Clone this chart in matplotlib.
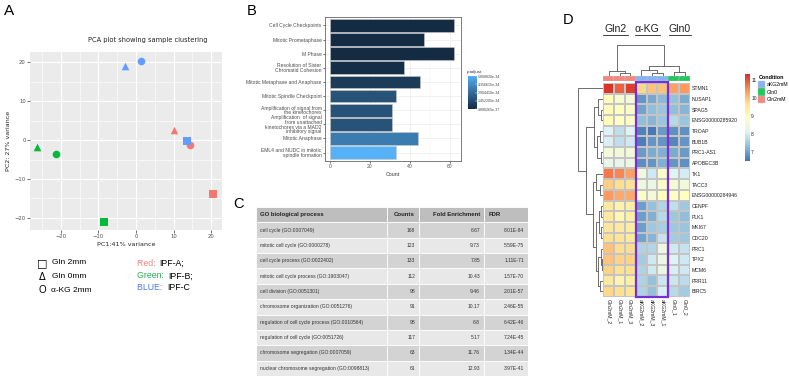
import numpy as np
import matplotlib
matplotlib.use('Agg')
import matplotlib.pyplot as plt
from matplotlib.colors import LinearSegmentedColormap
from matplotlib.patches import Rectangle
from matplotlib.lines import Line2D

# ---------------- DATA ----------------
# Panel A (PCA)
pca_donor = ['IPF-A', 'IPF-A', 'IPF-A', 'IPF-B', 'IPF-B', 'IPF-B', 'IPF-C', 'IPF-C', 'IPF-C']
pca_treat = ['Gln2', 'Gln0', 'aKG', 'Gln2', 'Gln0', 'aKG', 'Gln2', 'Gln0', 'aKG']
pc1 = [20.4, 10.0, 14.5, -8.5, -26.3, -21.4, 13.7, -2.9, 1.3]
pc2 = [-13.8, 2.7, -1.2, -21.0, -1.8, -3.5, -0.3, 19.0, 20.3]
pca_ticks = [-20, -10, 0, 10, 20]

# Panel B (Reactome enrichment)
b_terms = ['Cell Cycle Checkpoints', 'Mitotic Prometaphase', 'M Phase',
           'Resolution of Sister\nChromatid Cohesion', 'Mitotic Metaphase and Anaphase',
           'Mitotic Spindle Checkpoint', 'Amplification of signal from\nthe kinetochores',
           'Amplification  of signal\nfrom unattached\nkinetochores via a MAD2\ninhibitory signal',
           'Mitotic Anaphase', 'EML4 and NUDC in mitotic\nspindle formation']
b_counts = [62, 47, 62, 37, 45, 33, 31, 31, 44, 33]
b_padj = [1.0e-36, 2.0e-36, 3.890265e-37, 1.2e-35, 7.0e-35, 1.75e-34, 1.75e-34, 1.75e-34, 3.5e-34, 5.808820e-34]
b_padj_ticks = [5.808820e-34, 4.356615e-34, 2.904410e-34, 1.452205e-34, 3.890265e-37]
b_padj_labels = ['5.808820e-34', '4.356615e-34', '2.904410e-34', '1.452205e-34', '3.890265e-37']
b_xticks = [0, 20, 40, 60]

# Panel C (GO table)
c_header = ['GO biological process', 'Counts', 'Fold Enrichment', 'FDR']
c_process = ['cell cycle (GO:0007049)', 'mitotic cell cycle (GO:0000278)',
             'cell cycle process (GO:0022402)', 'mitotic cell cycle process (GO:1903047)',
             'cell division (GO:0051301)', 'chromosome organization (GO:0051276)',
             'regulation of cell cycle process (GO:0010564)', 'regulation of cell cycle (GO:0051726)',
             'chromosome segregation (GO:0007059)', 'nuclear chromosome segregation (GO:0098813)']
c_counts = ['168', '123', '133', '112', '98', '91', '98', '117', '63', '61']
c_fold = ['6.67', '9.73', '7.85', '10.43', '9.46', '10.17', '6.8', '5.17', '11.76', '12.93']
c_fdr = ['8.01E-84', '5.59E-75', '1.11E-71', '1.57E-70', '2.01E-57', '2.46E-55',
         '6.42E-46', '7.24E-45', '1.34E-44', '3.97E-41']

# Panel D (heatmap)
d_genes = ['STMN1', 'NUSAP1', 'SPAG5', 'ENSG00000285920', 'TROAP', 'BUB1B', 'PRC1-AS1',
           'APOBEC3B', 'TK1', 'TACC3', 'ENSG00000284946', 'CENPF', 'PLK1', 'MKI67', 'CDC20',
           'PRC1', 'TPX2', 'MCM6', 'PRR11', 'BIRC5']
d_samples = ['Gln2mM_2', 'Gln2mM_1', 'Gln2mM_3', 'aKG2mM_2', 'aKG2mM_3', 'aKG2mM_1', 'Gln0_1', 'Gln0_2']
d_condition = ['Gln2mM', 'Gln2mM', 'Gln2mM', 'aKG2mM', 'aKG2mM', 'aKG2mM', 'Gln0', 'Gln0']
d_values = [
    [11.30, 10.90, 11.20, 9.80, 10.00, 10.00, 10.35, 10.40],
    [8.95, 8.70, 8.60, 6.85, 7.05, 7.25, 7.35, 7.10],
    [9.00, 8.95, 8.80, 7.00, 7.30, 7.40, 7.30, 7.20],
    [9.00, 8.90, 8.85, 7.30, 7.20, 7.40, 7.70, 7.40],
    [8.10, 7.80, 8.15, 6.65, 6.55, 6.90, 6.80, 6.80],
    [8.05, 7.80, 7.95, 6.60, 6.85, 6.85, 6.70, 6.85],
    [8.60, 8.55, 8.55, 6.90, 7.10, 7.15, 7.10, 6.90],
    [8.35, 8.30, 8.40, 6.75, 6.85, 7.15, 6.85, 6.80],
    [10.70, 10.60, 10.35, 8.50, 7.95, 8.75, 8.15, 8.00],
    [9.90, 9.75, 9.65, 8.45, 8.40, 8.75, 8.60, 8.55],
    [10.40, 10.25, 10.25, 8.80, 8.60, 8.95, 8.85, 8.95],
    [9.50, 9.25, 9.35, 6.95, 7.35, 7.65, 7.80, 7.45],
    [9.45, 9.15, 9.35, 6.95, 7.15, 7.70, 7.45, 7.30],
    [9.55, 9.45, 9.40, 6.95, 7.45, 7.55, 7.45, 7.40],
    [9.70, 9.60, 9.50, 7.00, 7.20, 7.85, 7.50, 7.45],
    [10.00, 9.75, 9.75, 7.60, 7.65, 8.45, 7.95, 7.85],
    [10.00, 9.85, 9.85, 7.50, 7.95, 8.40, 8.10, 7.95],
    [9.85, 9.70, 9.70, 7.60, 7.95, 8.40, 8.05, 7.95],
    [9.45, 9.20, 9.35, 7.60, 7.35, 7.90, 7.90, 7.75],
    [9.80, 9.70, 9.60, 7.60, 7.35, 8.05, 7.70, 7.50],
]
d_ticks = [7, 8, 9, 10, 11]
# dendrograms: (height, left, right) nodes, ints are leaf indices
d_row_tree = (1.0, 0, (0.68, (0.36, (0.2, 1, (0.1, 2, 3)), (0.24, (0.12, 4, 5), (0.1, 6, 7))),
                       (0.42, (0.3, 8, (0.14, 9, 10)),
                        (0.3, (0.16, (0.08, 11, 12), (0.1, 13, 14)),
                         (0.2, (0.1, 15, (0.06, 16, 17)), (0.12, 18, 19))))))
d_col_tree = (1.0, (0.14, 0, (0.08, 1, 2)), (0.31, (0.17, 3, (0.1, 4, 5)), (0.13, 6, 7)))

# ---------------- STYLE ----------------
W, H = 789, 383
plt.rcParams['font.family'] = ['Liberation Sans', 'DejaVu Sans']
fig = plt.figure(figsize=(W / 100, H / 100), dpi=100)
fig.patch.set_facecolor('white')


def px_axes(x0, y0, x1, y1, **kw):
    return fig.add_axes([x0 / W, 1 - y1 / H, (x1 - x0) / W, (y1 - y0) / H], **kw)


def ftext(x, y, s, **kw):
    return fig.text(x / W, 1 - y / H, s, **kw)


def fline(xs, ys, **kw):
    fig.add_artist(Line2D([x / W for x in xs], [1 - y / H for y in ys], **kw))


# ---------------- PANEL A ----------------
donor_col = {'IPF-A': '#F8766D', 'IPF-B': '#00BA38', 'IPF-C': '#619CFF'}
treat_mk = {'Gln2': 's', 'Gln0': '^', 'aKG': 'o'}
axA = px_axes(30, 52, 222, 230)
axA.set_facecolor('#EBEBEB')
for i in range(len(pc1)):
    axA.scatter(pc1[i], pc2[i], marker=treat_mk[pca_treat[i]], c=donor_col[pca_donor[i]],
                s=30, linewidths=0, zorder=3)
axA.set_xlim(-28.2, 22.9)
axA.set_ylim(-23.1, 22.6)
axA.set_xticks(pca_ticks)
axA.set_yticks(pca_ticks)
axA.set_xticks([-25, -15, -5, 5, 15], minor=True)
axA.set_yticks([-15, -5, 5, 15], minor=True)
axA.grid(True, which='major', color='white', lw=0.8)
axA.grid(True, which='minor', color='white', lw=0.4)
axA.set_axisbelow(True)
for s in axA.spines.values():
    s.set_visible(False)
axA.tick_params(which='major', length=2, width=0.5, color='#333333', labelsize=3.8,
                labelcolor='#4D4D4D', pad=1)
axA.tick_params(which='minor', length=0)
axA.set_xlabel('PC1:41% variance', fontsize=4.6, color='#222222', labelpad=2, family='DejaVu Sans')
axA.set_ylabel('PC2: 27% variance', fontsize=4.6, color='#222222', labelpad=3, family='DejaVu Sans')
for lab in axA.get_xticklabels() + axA.get_yticklabels():
    lab.set_family('DejaVu Sans')
ftext(148, 40, 'PCA plot showing sample clustering', fontsize=4.8, ha='center', va='center',
      color='#222222', family='DejaVu Sans')
ftext(4, 11, 'A', fontsize=11, ha='left', va='center')

# legend for panel A
ftext(42, 263, '\u25A1', fontsize=8, ha='center', va='center', family='DejaVu Sans')
ftext(42, 277, '\u0394', fontsize=7, ha='center', va='center', family='DejaVu Sans')
ftext(42, 290, 'O', fontsize=7, ha='center', va='center')
ftext(52, 263, 'Gln 2mm', fontsize=6, ha='left', va='center')
ftext(52, 277, 'Gln 0mm', fontsize=6, ha='left', va='center')
ftext(51, 290, '\u03b1-KG 2mm', fontsize=6, ha='left', va='center')
for yy, lbl, col in [(263, 'Red: ', '#F4837D'), (276, 'Green: ', '#22B14C'), (288, 'BLUE: ', '#4A7BEA')]:
    ftext(137, yy, lbl, fontsize=6.3, ha='left', va='center', color=col)
ftext(159.5, 263, 'IPF-A;', fontsize=6.3, ha='left', va='center')
ftext(168.5, 276, 'IPF-B;', fontsize=6.3, ha='left', va='center')
ftext(167, 288, 'IPF-C', fontsize=6.3, ha='left', va='center')

# ---------------- PANEL B ----------------
cmapB = LinearSegmentedColormap.from_list('ggb', ['#132B43', '#56B1F7'])
pmin, pmax = min(b_padj), max(b_padj)
axB = px_axes(325, 17, 461, 161)
ypos = np.arange(len(b_terms))
colsB = [cmapB((p - pmin) / (pmax - pmin)) for p in b_padj]
axB.barh(ypos, b_counts, height=0.9, color=colsB, edgecolor='#C8C8C8', linewidth=0.4, zorder=3)
axB.set_ylim(len(b_terms) - 0.4, -0.6)
axB.set_xlim(-2.5, 65.5)
axB.set_yticks(ypos)
axB.set_yticklabels(b_terms, fontsize=3.5, color='#333333', linespacing=0.95)
axB.set_xticks(b_xticks)
axB.set_xticks([10, 30, 50], minor=True)
axB.tick_params(which='major', length=1.5, width=0.4, labelsize=3.6, labelcolor='#4D4D4D', pad=1)
axB.tick_params(which='minor', length=0)
axB.grid(True, which='major', color='#EBEBEB', lw=0.5)
axB.grid(True, which='minor', axis='x', color='#F3F3F3', lw=0.3)
axB.set_axisbelow(True)
for s in axB.spines.values():
    s.set_color('#666666')
    s.set_linewidth(0.6)
axB.set_xlabel('Count', fontsize=3.8, color='#333333', labelpad=1.5)
ftext(252, 11, 'B', fontsize=10.5, ha='center', va='center')

axBc = px_axes(467.5, 76, 476.5, 109.3)
grad = np.linspace(pmin, pmax, 100).reshape(-1, 1)
axBc.imshow(grad, aspect='auto', cmap=cmapB, origin='lower', extent=[0, 1, pmin, pmax])
axBc.set_xticks([])
axBc.yaxis.tick_right()
axBc.set_yticks(b_padj_ticks)
axBc.set_yticklabels(b_padj_labels, fontsize=2.6, color='#444444')
axBc.tick_params(axis='y', length=1.2, width=0.3, color='white', pad=1, direction='in')
for s in axBc.spines.values():
    s.set_visible(False)
ftext(467, 72.5, 'p.adjust', fontsize=3.2, ha='left', va='center', color='#333333')

# ---------------- PANEL C ----------------
ftext(239, 204, 'C', fontsize=10.5, ha='center', va='center')
col_edges = [256, 387, 419, 484, 528]
axC = px_axes(256, 207, 528, 376)
axC.set_xlim(256, 528)
axC.set_ylim(len(c_process) + 1, 0)
axC.axis('off')
rows = [c_header] + [[c_process[i], c_counts[i], c_fold[i], c_fdr[i]] for i in range(len(c_process))]
for r, row in enumerate(rows):
    if r == 0:
        bg = '#BEBEBE'
    elif r % 2 == 1:
        bg = '#D3D3D3'
    else:
        bg = '#E8E8E8'
    for c in range(4):
        x0, x1 = col_edges[c], col_edges[c + 1]
        axC.add_patch(Rectangle((x0, r), x1 - x0, 1, facecolor=bg, edgecolor='white', lw=0.6))
        if r == 0:
            if c in (0, 3):
                axC.text(x0 + 4.5, r + 0.5, row[c], fontsize=4.3, fontweight='bold', ha='left',
                         va='center', color='#222222')
            else:
                axC.text(x1 - 4, r + 0.5, row[c], fontsize=4.3, fontweight='bold', ha='right',
                         va='center', color='#222222')
        else:
            if c == 0:
                axC.text(x0 + 4.5, r + 0.5, row[c], fontsize=3.6, ha='left', va='center', color='#333333')
            else:
                axC.text(x1 - 4, r + 0.5, row[c], fontsize=3.6, ha='right', va='center', color='#333333')

# ---------------- PANEL D ----------------
ftext(568, 20, 'D', fontsize=10.5, ha='center', va='center')
hm_colors = ["#4575B4", "#91BFDB", "#E0F3F8", "#FFFFBF", "#FEE090", "#FC8D59", "#D73027"]
cmapD = LinearSegmentedColormap.from_list('rdylbu_r', hm_colors)
vmin, vmax = 6.5, 11.34
vals = np.array(d_values)
nr, nc = vals.shape
axD = px_axes(603.3, 83, 690, 296.7)
axD.pcolormesh(np.arange(nc + 1), np.arange(nr + 1), vals, cmap=cmapD, vmin=vmin, vmax=vmax,
               edgecolors='#C4C4C4', linewidth=0.3)
axD.set_xlim(0, nc)
axD.set_ylim(nr, 0)
axD.set_xticks(np.arange(nc) + 0.5)
axD.set_xticklabels(d_samples, rotation=270, fontsize=3.7, color='#222222')
axD.set_yticks(np.arange(nr) + 0.5)
axD.set_yticklabels(d_genes, fontsize=3.7, color='#222222')
axD.yaxis.tick_right()
axD.tick_params(length=0, pad=1.5)
for s in axD.spines.values():
    s.set_visible(False)
# purple box around aKG columns
akg_idx = [i for i, c in enumerate(d_condition) if c == 'aKG2mM']
axD.add_patch(Rectangle((min(akg_idx), -0.1), len(akg_idx), nr + 0.1, fill=False,
                        edgecolor='#7A2FD6', lw=1.6, clip_on=False, zorder=5))

# annotation bar
cond_col = {'aKG2mM': '#86B3F2', 'Gln0': '#1FC95C', 'Gln2mM': '#F6877F'}
axAn = px_axes(603.3, 75.7, 690, 80.6)
for i, c in enumerate(d_condition):
    axAn.add_patch(Rectangle((i, 0), 1, 1, facecolor=cond_col[c], edgecolor='#C4C4C4', lw=0.3))
axAn.set_xlim(0, nc)
axAn.set_ylim(0, 1)
axAn.axis('off')


def draw_tree(ax, node, orient):
    if isinstance(node, int):
        return node + 0.5, 0.0
    h, l, r = node
    pl, hl = draw_tree(ax, l, orient)
    pr, hr = draw_tree(ax, r, orient)
    kw = dict(color='#555555', lw=0.6, solid_capstyle='butt')
    if orient == 'row':
        ax.plot([hl, h, h, hr], [pl, pl, pr, pr], **kw)
    else:
        ax.plot([pl, pl, pr, pr], [hl, h, h, hr], **kw)
    return (pl + pr) / 2, h


axRD = px_axes(571, 83, 603.3, 296.7)
draw_tree(axRD, d_row_tree, 'row')
axRD.set_xlim(1.28, 0)
axRD.set_ylim(nr, 0)
axRD.axis('off')

axCD = px_axes(603.3, 42, 690, 75.7)
draw_tree(axCD, d_col_tree, 'col')
axCD.set_xlim(0, nc)
axCD.set_ylim(0, 1.1)
axCD.axis('off')

# group labels
for x0, x1, lbl in [(603.3, 627.5, 'Gln2'), (635, 659.5, '\u03b1-KG'), (669, 691, 'Gln0')]:
    ftext((x0 + x1) / 2, 32.5, lbl, fontsize=7.6, ha='center', va='baseline', color='#222222')
    fline([x0, x1], [35, 35], color='#222222', lw=0.6)

# heatmap colorbar
axDc = px_axes(745, 74, 749.5, 160.7)
gradD = np.linspace(vmin, vmax, 200).reshape(-1, 1)
axDc.imshow(gradD, aspect='auto', cmap=cmapD, origin='lower', extent=[0, 1, vmin, vmax])
axDc.set_xticks([])
axDc.yaxis.tick_right()
axDc.set_yticks(d_ticks)
axDc.set_yticklabels([str(t) for t in d_ticks], fontsize=3.5, color='#222222')
axDc.tick_params(axis='y', length=0, pad=1.2)
for s in axDc.spines.values():
    s.set_visible(False)

# condition legend
ftext(759, 77.5, 'Condition', fontsize=3.9, fontweight='bold', ha='left', va='center')
for k, (nm, yy) in enumerate([('aKG2mM', 84.5), ('Gln0', 92), ('Gln2mM', 99.5)]):
    fig.add_artist(Rectangle((758 / W, 1 - (yy + 3.6) / H), 7 / W, 7.2 / H,
                             facecolor=cond_col[nm], edgecolor='#C4C4C4', lw=0.3,
                             transform=fig.transFigure))
    ftext(767, yy, nm, fontsize=3.7, ha='left', va='center')

fig.savefig('out.png', dpi=100)
